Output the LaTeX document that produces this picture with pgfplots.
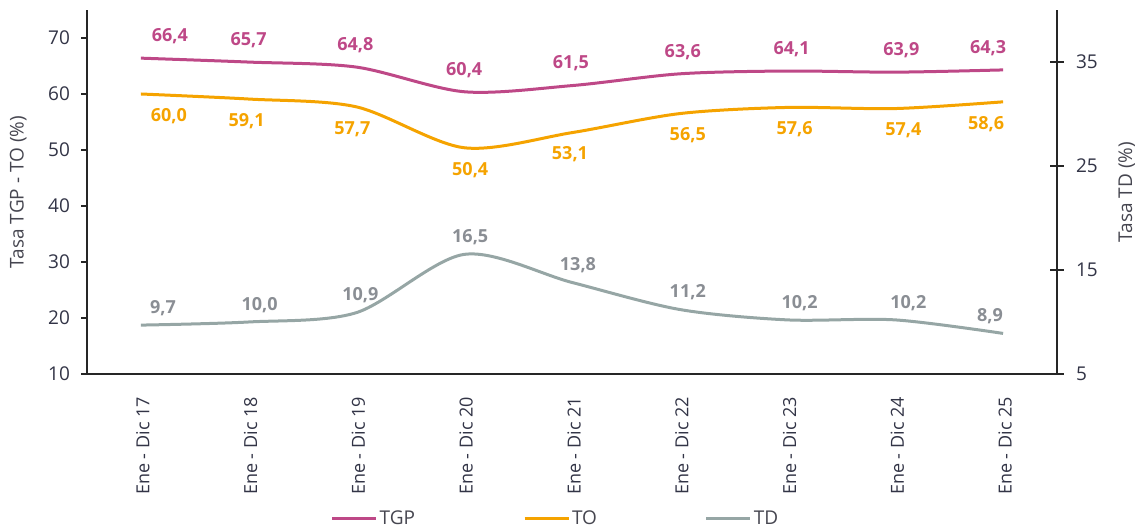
\documentclass[border=0pt]{standalone}
\usepackage{pgfplots}
\pgfplotsset{compat=1.18}
\usepackage{pgfplotstable}
\usepackage{fontspec}
\setmainfont{Open Sans}
\definecolor{tgp}{RGB}{190,72,135}
\definecolor{to}{RGB}{245,163,0}
\definecolor{td}{RGB}{150,166,165}
\definecolor{tdlab}{RGB}{138,142,148}
\definecolor{tickc}{RGB}{50,52,70}
\definecolor{labc}{RGB}{70,70,80}

\pgfplotstableread{
x tgp to td dxa dxb dxc
0 66.4 60.0 9.7 14.5 14 11
1 65.7 59.1 10.0 0 -1 5.5
2 64.8 57.7 10.9 -0.5 -2 2
3 60.4 50.4 16.5 0 3 3
4 61.5 53.1 13.8 -0.5 -1 3
5 63.6 56.5 11.2 1.5 4 4
6 64.1 57.6 10.2 2 3.5 6
7 63.9 57.4 10.2 3 4 6.5
8 64.3 58.6 8.9 -7.5 -8.5 -6.5
}\data

\begin{document}
\begin{tikzpicture}
\pgfplotsset{
  base/.style={
    scale only axis, width=485pt, height=182pt,
    xmin=-0.5, xmax=8.5,
    tick style={line width=0.8pt, black!85},
    /pgf/number format/assume math mode=true,
    tick label style={font=\fontsize{9.5}{11}\selectfont, text=tickc},
    clip=false,
  },
  lbl/.style={nodes near coords, point meta=explicit,
    nodes near coords style={font=\fontsize{9}{10}\selectfont\bfseries, text=#1, anchor=center,
      /pgf/number format/fixed, /pgf/number format/fixed zerofill,
      /pgf/number format/precision=1, /pgf/number format/use comma}},
}
\begin{axis}[base,
  ymin=10, ymax=75,
  ytick={10,20,...,70},
  axis x line=bottom, axis y line=left,
  axis line style={-, line width=0.8pt, black!85},
  xtick={0,...,8},
  xticklabels={Ene - Dic 17,Ene - Dic 18,Ene - Dic 19,Ene - Dic 20,Ene - Dic 21,Ene - Dic 22,Ene - Dic 23,Ene - Dic 24,Ene - Dic 25},
  x tick style={draw=none},
  xticklabel style={rotate=90, anchor=east, font=\fontsize{9}{10.5}\selectfont, xshift=-5pt, yshift=-1pt},
  tick align=outside,
  major tick length=3pt,
  yticklabel style={xshift=-2pt},
  ylabel={Tasa TGP - TO (\%)},
  ylabel style={at={(axis description cs:-0.071,0.5)}, anchor=center, font=\fontsize{9.5}{11}\selectfont, text=labc},
]
\addplot[tgp, line width=1.5pt, smooth, lbl=tgp,
  visualization depends on={\thisrow{dxa} \as \dxa},
  every node near coord/.append style={xshift=\dxa pt, yshift=11pt}]
  table[x=x, y=tgp, meta=tgp] {\data};
\addplot[to, line width=1.5pt, smooth, lbl=to,
  visualization depends on={\thisrow{dxb} \as \dxb},
  every node near coord/.append style={xshift=\dxb pt, yshift=-11pt}]
  table[x=x, y=to, meta=to] {\data};
\end{axis}
\begin{axis}[base,
  ymin=5, ymax=40,
  ytick={5,15,25,35},
  axis x line=none, axis y line=right,
  axis line style={-, line width=0.8pt, black!85},
  tick align=center,
  major tick length=7pt,
  yticklabel style={xshift=2.5pt},
  ylabel={Tasa TD (\%)},
  ylabel style={at={(axis description cs:1.072,0.5)}, anchor=center, font=\fontsize{9.5}{11}\selectfont, text=labc},
  legend columns=3,
  legend style={draw=none, at={(0.483,-0.398)}, anchor=center,
    font=\fontsize{9.5}{11}\selectfont, text=labc,
    nodes={inner sep=1pt},
    /tikz/every even column/.append style={column sep=53pt}},
  legend image code/.code={\draw[#1, line width=1.5pt] (0pt,0pt) -- (22pt,0pt);},
]
\addlegendimage{tgp}
\addlegendentry{TGP}
\addlegendimage{to}
\addlegendentry{TO}
\addplot[td, line width=1.5pt, smooth, lbl=tdlab,
  visualization depends on={\thisrow{dxc} \as \dxc},
  every node near coord/.append style={xshift=\dxc pt, yshift=8.5pt}]
  table[x=x, y=td, meta=td] {\data};
\addlegendentry{TD}
\coordinate (bbsw) at (rel axis cs:-0.0897,-0.4286);
\coordinate (bbne) at (rel axis cs:1.0918,1.0275);
\end{axis}
\pgfresetboundingbox
\useasboundingbox (bbsw) rectangle (bbne);
\end{tikzpicture}
\end{document}
